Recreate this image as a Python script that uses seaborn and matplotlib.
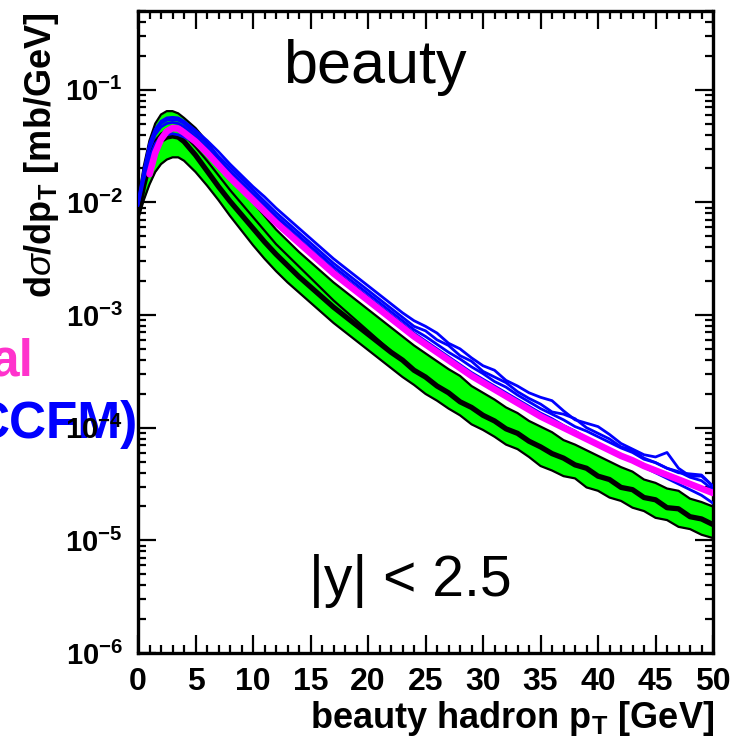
import numpy as np
import pandas as pd
import matplotlib
matplotlib.use("Agg")
import matplotlib.pyplot as plt
from matplotlib.ticker import FixedLocator, MultipleLocator, LogLocator, NullFormatter
import seaborn as sns

nan = np.nan

# beauty hadron transverse momentum grid [GeV]
pt = [0, 0.5, 1, 1.5, 2, 2.5, 3, 3.5, 4,
      5, 6, 7, 8, 9, 10, 11, 12, 13, 14,
      15, 16, 17, 18, 19, 20, 21, 22, 23, 24,
      25, 26, 27, 28, 29, 30, 31, 32, 33, 34,
      35, 36, 37, 38, 39, 40, 41, 42, 43, 44,
      45, 46, 47, 48, 49, 50]

# all curves below are log10 of dsigma/dpT in mb/GeV
magenta_log = [nan, nan, -1.75, -1.56, -1.44, -1.37, -1.34, -1.345, -1.38,
               -1.46, -1.56, -1.67, -1.78, -1.88, -1.98, -2.08, -2.18, -2.27, -2.36,
               -2.45, -2.54, -2.63, -2.71, -2.79, -2.87, -2.95, -3.03, -3.11, -3.19,
               -3.26, -3.33, -3.40, -3.47, -3.54, -3.60, -3.66, -3.72, -3.78, -3.84,
               -3.90, -3.95, -4.00, -4.05, -4.10, -4.15, -4.20, -4.25, -4.29, -4.34,
               -4.38, -4.42, -4.46, -4.50, -4.54, -4.58]

band_upper_log = [-2.00, -1.68, -1.45, -1.30, -1.22, -1.19, -1.19, -1.21, -1.25,
                  -1.34, -1.46, -1.60, -1.74, -1.87, -2.00, -2.12, -2.24, -2.34, -2.44,
                  -2.53, -2.62, -2.71, -2.79, -2.87, -2.95, -3.03, -3.11, -3.19, -3.27,
                  -3.34, -3.41, -3.48, -3.54, -3.63, -3.69, -3.75, -3.82, -3.87, -3.94,
                  -3.99, -4.04, -4.11, -4.15, -4.20, -4.25, -4.30, -4.35, -4.39, -4.46,
                  -4.49, -4.54, -4.56, -4.63, -4.66, -4.70]

band_lower_log = [-2.15, -1.98, -1.84, -1.73, -1.66, -1.62, -1.60, -1.60, -1.63,
                  -1.73, -1.85, -1.98, -2.12, -2.25, -2.38, -2.50, -2.61, -2.71, -2.80,
                  -2.89, -2.98, -3.07, -3.15, -3.23, -3.31, -3.39, -3.47, -3.55, -3.62,
                  -3.70, -3.76, -3.83, -3.89, -3.97, -4.02, -4.08, -4.15, -4.19, -4.26,
                  -4.34, -4.38, -4.43, -4.45, -4.53, -4.56, -4.62, -4.65, -4.71, -4.74,
                  -4.80, -4.82, -4.88, -4.90, -4.95, -4.98]

band_center_log = [-2.10, -1.85, -1.65, -1.52, -1.45, -1.42, -1.41, -1.42, -1.46,
                   -1.58, -1.72, -1.86, -1.99, -2.11, -2.23, -2.35, -2.46, -2.56, -2.66,
                   -2.75, -2.84, -2.93, -3.01, -3.09, -3.17, -3.25, -3.33, -3.40, -3.49,
                   -3.55, -3.63, -3.69, -3.77, -3.82, -3.89, -3.94, -4.01, -4.05, -4.12,
                   -4.17, -4.23, -4.27, -4.33, -4.36, -4.43, -4.46, -4.53, -4.55, -4.62,
                   -4.64, -4.71, -4.72, -4.79, -4.81, -4.86]

band_inner_log = [-2.05, -1.78, -1.58, -1.45, -1.39, -1.36, -1.35, -1.36, -1.40,
                  -1.51, -1.63, -1.76, -1.89, -2.01, -2.13, -2.25, -2.37, -2.47, -2.57,
                  -2.67, -2.77, -2.87, -2.96, -3.05, -3.14, -3.23, -3.32, nan, nan,
                  nan, nan, nan, nan, nan, nan, nan, nan, nan, nan,
                  nan, nan, nan, nan, nan, nan, nan, nan, nan, nan,
                  nan, nan, nan, nan, nan, nan]

blue_1_log = [-2.00, -1.72, -1.48, -1.35, -1.28, -1.25, -1.245, -1.25, -1.28,
              -1.36, -1.45, -1.55, -1.66, -1.76, -1.86, -1.95, -2.05, -2.14, -2.23,
              -2.32, -2.41, -2.50, -2.58, -2.66, -2.74, -2.82, -2.90, -2.98, -3.05,
              -3.10, -3.16, -3.25, -3.30, -3.38, -3.45, -3.49, -3.58, -3.63, -3.69,
              -3.73, -3.76, -3.85, -3.93, -3.96, -3.99, -4.06, -4.14, -4.19, -4.24,
              -4.26, -4.22, -4.36, -4.43, -4.43, -4.52]

blue_2_log = [-2.01, -1.74, -1.50, -1.37, -1.30, -1.27, -1.265, -1.27, -1.30,
              -1.39, -1.48, -1.59, -1.69, -1.79, -1.89, -1.99, -2.09, -2.18, -2.27,
              -2.36, -2.45, -2.54, -2.62, -2.70, -2.78, -2.86, -2.94, -3.02, -3.10,
              -3.14, -3.22, -3.27, -3.36, -3.41, -3.50, -3.55, -3.60, -3.68, -3.74,
              -3.79, -3.86, -3.88, -3.92, -4.00, -4.05, -4.10, -4.17, -4.20, -4.27,
              -4.31, -4.36, -4.40, -4.41, -4.42, -4.52]

blue_3_log = [-2.02, -1.76, -1.53, -1.40, -1.33, -1.30, -1.29, -1.30, -1.33,
              -1.42, -1.51, -1.62, -1.72, -1.82, -1.92, -2.02, -2.12, -2.21, -2.30,
              -2.39, -2.48, -2.57, -2.65, -2.73, -2.81, -2.89, -2.97, -3.05, -3.13,
              -3.19, -3.26, -3.33, -3.39, -3.46, -3.52, -3.59, -3.64, -3.71, -3.77,
              -3.83, -3.88, -3.93, -3.99, -4.03, -4.08, -4.13, -4.18, -4.22, -4.28,
              -4.31, -4.36, -4.39, -4.44, -4.47, -4.55]

blue_4_log = [-2.03, -1.80, -1.60, -1.48, -1.42, -1.40, -1.39, -1.40, -1.42,
              -1.47, -1.55, -1.65, -1.75, -1.85, -1.95, -2.05, -2.14, -2.24, -2.33,
              -2.42, -2.51, -2.60, -2.68, -2.76, -2.84, -2.92, -3.00, -3.08, -3.16,
              -3.23, -3.30, -3.37, -3.44, -3.51, -3.57, -3.63, -3.69, -3.75, -3.81,
              -3.87, -3.92, -3.98, -4.03, -4.09, -4.14, -4.20, -4.25, -4.30, -4.35,
              -4.40, -4.45, -4.50, -4.55, -4.60, -4.67]

x_ticks = [0, 5, 10, 15, 20, 25, 30, 35, 40, 45, 50]
x_tick_labels = ["0", "5", "10", "15", "20", "25", "30", "35", "40", "45", "50"]
y_ticks = [1e-6, 1e-5, 1e-4, 1e-3, 1e-2, 1e-1]
y_tick_labels = [r"$\mathbf{10^{-6}}$", r"$\mathbf{10^{-5}}$", r"$\mathbf{10^{-4}}$",
                 r"$\mathbf{10^{-3}}$", r"$\mathbf{10^{-2}}$", r"$\mathbf{10^{-1}}$"]

sns.set_style("ticks")
plt.rcParams["font.family"] = ["Liberation Sans", "DejaVu Sans"]
plt.rcParams["mathtext.fontset"] = "custom"
plt.rcParams["mathtext.rm"] = "Liberation Sans"
plt.rcParams["mathtext.bf"] = "Liberation Sans:bold"
plt.rcParams["mathtext.it"] = "Liberation Sans:italic"
for key in ["text.color", "axes.labelcolor", "xtick.color", "ytick.color",
            "xtick.labelcolor", "ytick.labelcolor", "axes.edgecolor"]:
    plt.rcParams[key] = "black"

df = pd.DataFrame({
    "pt": pt,
    "magenta": np.power(10.0, magenta_log),
    "upper": np.power(10.0, band_upper_log),
    "lower": np.power(10.0, band_lower_log),
    "center": np.power(10.0, band_center_log),
    "inner": np.power(10.0, band_inner_log),
    "blue1": np.power(10.0, blue_1_log),
    "blue2": np.power(10.0, blue_2_log),
    "blue3": np.power(10.0, blue_3_log),
    "blue4": np.power(10.0, blue_4_log),
})

W, H = 746, 741
fig = plt.figure(figsize=(W / 100, H / 100), dpi=100)
ax = fig.add_axes([138 / W, 1 - 653 / H, (713 - 138) / W, (653 - 11) / H])
ax.set_yscale("log")

# uncertainty band with black outlines and central value
ax.fill_between(df["pt"], df["lower"], df["upper"], color="#00ff00", lw=0, zorder=1)
for col, lw in [("lower", 1.6), ("upper", 1.6), ("inner", 1.6), ("center", 3.8)]:
    sns.lineplot(data=df, x="pt", y=col, ax=ax, color="black", linewidth=lw,
                 estimator=None, zorder=2)

for col in ["blue1", "blue2", "blue3", "blue4"]:
    sns.lineplot(data=df, x="pt", y=col, ax=ax, color="#0000ff", linewidth=2.0,
                 estimator=None, zorder=3)

sns.lineplot(data=df, x="pt", y="magenta", ax=ax, color="#ff00ff", linewidth=4.8,
             estimator=None, zorder=4)

ax.set_xlabel("")
ax.set_ylabel("")
ax.set_xlim(0, 50)
ax.set_ylim(1e-6, 0.5)

ax.xaxis.set_major_locator(FixedLocator(x_ticks))
ax.xaxis.set_minor_locator(MultipleLocator(1))
ax.set_xticklabels(x_tick_labels, fontsize=23, fontweight="bold")
ax.yaxis.set_major_locator(FixedLocator(y_ticks))
ax.yaxis.set_minor_locator(LogLocator(base=10, subs=np.arange(2, 10) * 1.0, numticks=30))
ax.yaxis.set_minor_formatter(NullFormatter())
ax.set_yticklabels(y_tick_labels, fontsize=21)

ax.tick_params(which="both", direction="in", top=True, right=True, width=1.6,
               color="black", labelcolor="black")
ax.tick_params(which="major", length=13)
ax.tick_params(which="minor", length=6)
ax.tick_params(axis="x", pad=10)
ax.tick_params(axis="y", pad=11)
for sp in ax.spines.values():
    sp.set_linewidth(2.4)
    sp.set_color("black")

# annotations
fig.text(283 / W, 1 - 83 / H, "beauty", fontsize=44, color="black", ha="left", va="baseline")
fig.text(309 / W, 1 - 596 / H, "|y| < 2.5", fontsize=41, color="black", ha="left", va="baseline")
fig.text(42 / W, 1 - 155 / H, r"d$\sigma$/dp$_\mathbf{T}$ [mb/GeV]", rotation=90,
         fontsize=26, fontweight="bold", color="black", ha="center", va="center")
fig.text(714 / W, 1 - 728 / H, r"beauty hadron p$_\mathbf{T}$ [GeV]", fontsize=26,
         fontweight="bold", color="black", ha="right", va="baseline")
fig.text(-10 / W, 1 - 375 / H, "al", color="#ff33cc", fontsize=37,
         fontweight="bold", ha="left", va="baseline", zorder=-1)
fig.text(-27 / W, 1 - 438 / H, "CCFM)", color="#0000ff", fontsize=37,
         fontweight="bold", ha="left", va="baseline", zorder=-1)

fig.savefig("out.png", dpi=100)
